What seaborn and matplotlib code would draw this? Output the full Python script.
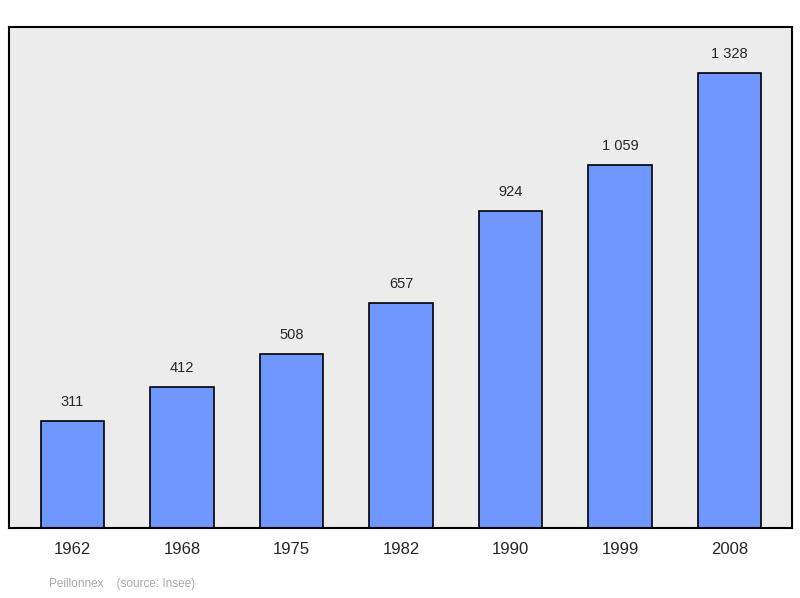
import matplotlib
matplotlib.use("Agg")
import matplotlib.pyplot as plt
import seaborn as sns
import pandas as pd

years = ["1962", "1968", "1975", "1982", "1990", "1999", "2008"]
population = [311, 412, 508, 657, 924, 1059, 1328]
labels = ["311", "412", "508", "657", "924", "1 059", "1 328"]

sns.set_style("white")
plt.rcParams['font.family'] = ['Liberation Sans', 'DejaVu Sans']

fig = plt.figure(figsize=(8, 5.98), dpi=100)
ax = fig.add_axes([9/800, 1-528/598, 783/800, 501/598])
ax.set_facecolor("#ececec")
df = pd.DataFrame({"year": years, "pop": population})
sns.barplot(data=df, x="year", y="pop", color="#7096ff", saturation=1,
            edgecolor="black", linewidth=1.2, width=0.58, ax=ax)
for i, (v, t) in enumerate(zip(population, labels)):
    ax.text(i, v + 35, t, ha="center", va="bottom", fontsize=10.5)
ax.set_xlim(-0.58, 6.57)
ax.set_ylim(0, 1462)
ax.set_yticks([])
ax.set_xlabel("")
ax.set_ylabel("")
ax.tick_params(axis="x", length=0, labelsize=12, pad=10)
for s in ax.spines.values():
    s.set_linewidth(1.5)
    s.set_color("black")
fig.text(49/800, 1-584/598, "Peillonnex    (source: Insee)", color="#aaaaaa",
         fontsize=8.5, va="center")
fig.savefig("out.png", dpi=100)
